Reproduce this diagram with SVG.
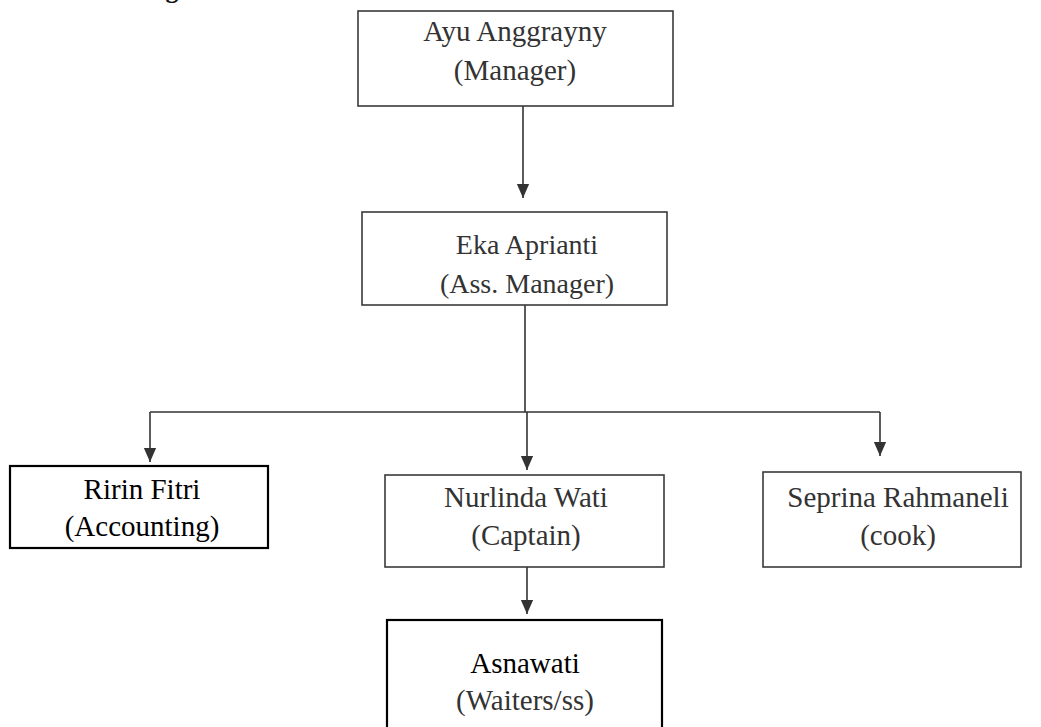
<svg xmlns="http://www.w3.org/2000/svg" width="1041" height="727" viewBox="0 0 1041 727">
<style>
.box{fill:#fff;stroke:#3a3a3a;stroke-width:1.6}
.dark{fill:#fff;stroke:#000;stroke-width:2.2}
.t{font-family:"Liberation Serif","Times New Roman",serif;font-size:29px;fill:#333;text-anchor:middle}
.tb{font-family:"Liberation Serif","Times New Roman",serif;font-size:29px;fill:#000;text-anchor:middle}
.ln{fill:none;stroke:#333;stroke-width:1.6}
</style>
<defs>
<marker id="arr" markerWidth="14" markerHeight="16" refX="16" refY="7" orient="auto" markerUnits="userSpaceOnUse" viewBox="0 0 16 14">
<path d="M0,0 L16,7 L0,14 Z" fill="#333"/>
</marker>
</defs>
<rect width="1041" height="727" fill="#fff"/>
<text x="0" y="-2" style="font-family:'Liberation Serif',serif;font-size:26px;font-weight:bold;fill:#111">n Structure Org</text>
<g id="connectors">
<path class="ln" d="M523,106 V198" marker-end="url(#arr)"/>
<path class="ln" d="M525,305 V412"/>
<path class="ln" d="M150,412 H880"/>
<path class="ln" d="M150,412 V462" marker-end="url(#arr)"/>
<path class="ln" d="M527,412 V470" marker-end="url(#arr)"/>
<path class="ln" d="M880,412 V456" marker-end="url(#arr)"/>
<path class="ln" d="M527,567 V614" marker-end="url(#arr)"/>
</g>
<g id="ayu">
<rect class="box" x="358" y="11" width="315" height="95"/>
<text class="t" x="515" y="41">Ayu Anggrayny</text>
<text class="t" x="515" y="80">(Manager)</text>
</g>
<g id="eka">
<rect class="box" x="362" y="212" width="305" height="93"/>
<text class="t" x="527" y="254" style="font-size:28px">Eka Aprianti</text>
<text class="t" x="527" y="293" style="font-size:28px">(Ass. Manager)</text>
</g>
<g id="ririn">
<rect class="dark" x="10" y="466" width="258" height="82"/>
<text class="tb" x="142" y="499">Ririn Fitri</text>
<text class="tb" x="142" y="536">(Accounting)</text>
</g>
<g id="nurlinda">
<rect class="box" x="385" y="475" width="279" height="92"/>
<text class="t" x="526" y="507">Nurlinda Wati</text>
<text class="t" x="526" y="545">(Captain)</text>
</g>
<g id="seprina">
<rect class="box" x="763" y="472" width="258" height="95"/>
<text class="t" x="898" y="507">Seprina Rahmaneli</text>
<text class="t" x="898" y="545">(cook)</text>
</g>
<g id="asnawati">
<rect class="dark" x="387" y="620" width="275" height="120"/>
<text class="tb" x="525" y="673">Asnawati</text>
<text class="t" x="525" y="710">(Waiters/ss)</text>
</g>
</svg>
